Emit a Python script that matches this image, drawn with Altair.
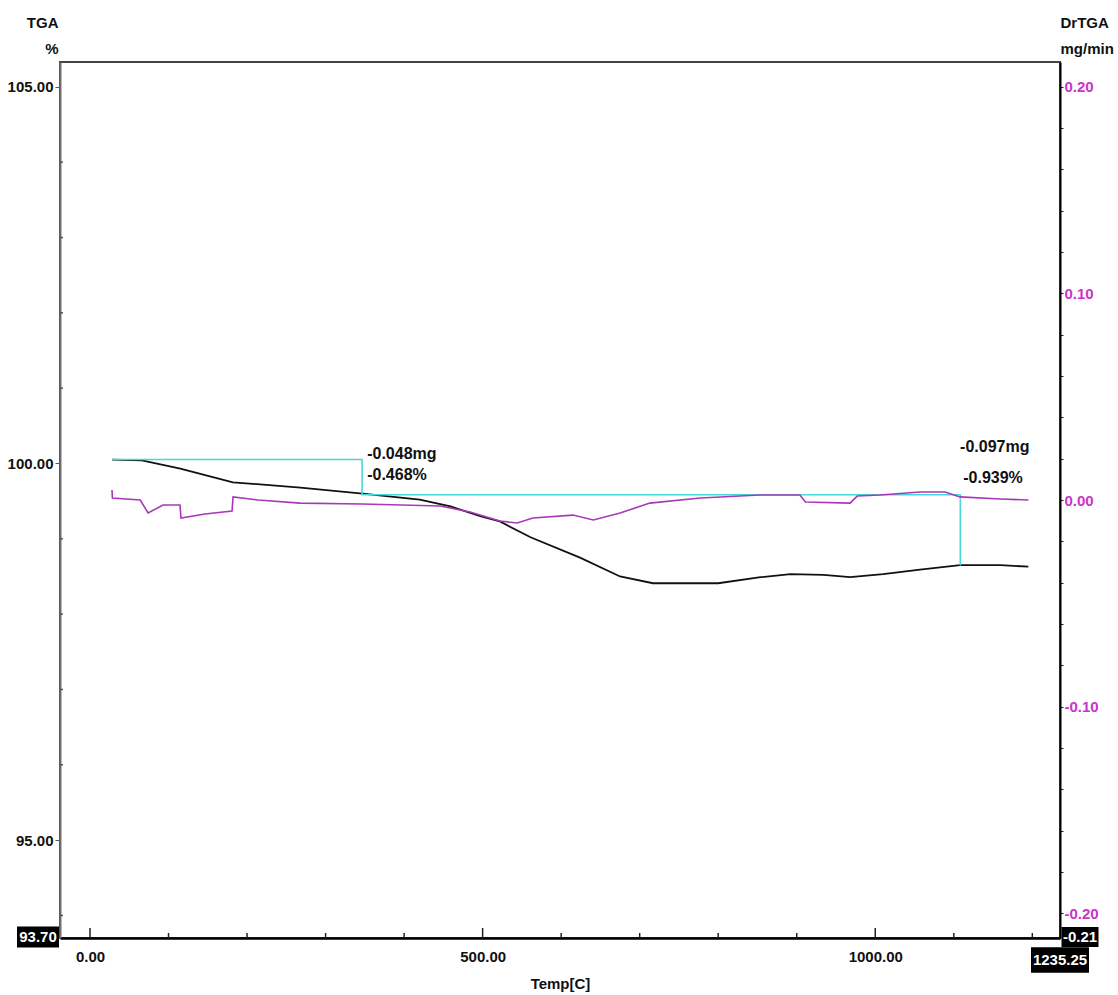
import altair as alt
import pandas as pd

# ---- data ----
temp_tga = [28, 66, 115, 182, 268, 347, 420, 459, 497, 522, 561, 624, 675, 717,
            800, 854, 892, 934, 968, 1010, 1057, 1108, 1159, 1195]
tga = [100.05, 100.04, 99.93, 99.75, 99.68, 99.60, 99.52, 99.43, 99.30, 99.23,
       99.02, 98.75, 98.50, 98.41, 98.41, 98.49, 98.53, 98.52, 98.49, 98.53,
       98.59, 98.65, 98.65, 98.63]

temp_dr = [28, 28.5, 64, 74, 93, 114.6, 115.9, 146.5, 180.9, 182.2, 214, 267.5,
           346.5, 446, 484, 522, 544, 564, 615, 641, 675, 713, 777, 853, 904,
           911, 968, 977, 1006, 1057, 1089, 1108, 1159, 1195]
dr = [0.0048, 0.0010, 0.0, -0.0063, -0.0024, -0.0024, -0.0087, -0.0068, -0.0053,
      0.0015, 0.0, -0.0015, -0.0019, -0.0029, -0.0058, -0.0102, -0.0111, -0.0087,
      -0.0073, -0.0097, -0.0063, -0.0015, 0.0010, 0.0024, 0.0024, -0.0010,
      -0.0015, 0.0019, 0.0024, 0.0039, 0.0039, 0.0015, 0.0005, 0.0]

step_temp = [28, 346.5, 346.5, 1108.3, 1108.3]
step_tga = [100.053, 100.053, 99.585, 99.585, 98.646]

ann_text = ["-0.048mg", "-0.468%", "-0.097mg", "-0.939%"]
ann_temp = [353, 353, 1108, 1112]
ann_tga = [100.12, 99.85, 100.225, 99.81]

X_MIN, X_MAX = -38.2, 1235.25
Y_MIN, Y_MAX = 93.70, 105.33
R_MIN, R_MAX = -0.212, 0.212

x_major = [0, 500, 1000]
x_minor = [100, 200, 300, 400, 600, 700, 800, 900, 1100, 1200]
y_major = [95, 100, 105]
y_minor = [94, 96, 97, 98, 99, 101, 102, 103, 104]
r_ticks = [round(-0.20 + 0.02 * i, 2) for i in range(21)]

FONT = "Liberation Sans, Arial, sans-serif"
FS = 15
FW = "bold"
MAGENTA_TXT = "#cc33cc"
MAGENTA_LINE = "#a838b8"
CYAN = "#48d8d8"

xs = alt.Scale(domain=[X_MIN, X_MAX], nice=False, zero=False)
ys = alt.Scale(domain=[Y_MIN, Y_MAX], nice=False, zero=False)
rs = alt.Scale(domain=[R_MIN, R_MAX], nice=False, zero=False)

X_AX = alt.Axis(values=x_major, format=".2f", tickSize=0, labelPadding=11,
                labelFontSize=FS, labelFont=FONT, labelFontWeight=FW, labelColor="#111",
                labelFlush=False, domainColor="#000", domainWidth=2.5, grid=False,
                title="Temp[C]", titleFont=FONT, titleFontSize=FS, titleFontWeight=FW,
                titleY=50, titleBaseline="alphabetic", titleColor="#111")
Y_AX = alt.Axis(values=y_major, format=".2f", tickSize=5, tickColor="#555", labelPadding=2,
                labelFontSize=FS, labelFont=FONT, labelFontWeight=FW, labelColor="#111",
                labelFlush=False, domainColor="#707070", domainWidth=2, grid=False,
                title=["TGA", "%"], titleAngle=0, titleAlign="right", titleX=-2, titleY=-35,
                titleBaseline="alphabetic", titleFont=FONT, titleFontSize=FS,
                titleFontWeight=FW, titleLineHeight=26, titleColor="#111")

r_label_expr = ("abs(datum.value*10 - round(datum.value*10)) < 0.001 ? "
                "replace(format(datum.value, '.2f'), '\u2212', '-') : ''")
R_AX = alt.Axis(orient="right", values=r_ticks, labelExpr=r_label_expr, tickSize=3,
                tickColor="#222", labelPadding=1, labelFontSize=FS, labelFont=FONT,
                labelFontWeight=FW, labelColor=MAGENTA_TXT, labelOverlap=False,
                labelFlush=False, domainColor="#000", domainWidth=2, grid=False,
                title=["DrTGA", "mg/min"], titleAngle=0, titleAlign="left", titleX=0,
                titleY=-35, titleBaseline="alphabetic", titleFont=FONT, titleFontSize=FS,
                titleFontWeight=FW, titleLineHeight=26, titleColor="#111")

df_tga = pd.DataFrame({"temp": temp_tga, "tga": tga})
df_dr = pd.DataFrame({"temp": temp_dr, "dr": dr})
df_step = pd.DataFrame({"temp": step_temp, "tga": step_tga, "o": list(range(len(step_temp)))})
df_ann = pd.DataFrame({"temp": ann_temp, "tga": ann_tga, "t": ann_text})
df_xt = pd.DataFrame({"temp": x_major + x_minor,
                      "tga": [Y_MIN] * (len(x_major) + len(x_minor)),
                      "y1": [Y_MIN + 0.133] * len(x_major) + [Y_MIN + 0.066] * len(x_minor)})
df_yt = pd.DataFrame({"temp": [X_MIN] * len(y_minor), "x1": [X_MIN + 3.8] * len(y_minor),
                      "tga": y_minor})


def X():
    return alt.X("temp:Q", scale=xs, axis=X_AX)


def Y():
    return alt.Y("tga:Q", scale=ys, axis=Y_AX)


tga_line = alt.Chart(df_tga).mark_line(color="#111111", strokeWidth=1.8).encode(x=X(), y=Y())

step_line = alt.Chart(df_step).mark_line(color=CYAN, strokeWidth=1.6).encode(
    x=X(), y=Y(), order="o:Q")

ann = alt.Chart(df_ann).mark_text(align="left", baseline="middle", font=FONT,
                                  fontSize=16, fontWeight=FW, color="#111").encode(
    x=X(), y=Y(), text="t:N")

xticks = alt.Chart(df_xt).mark_rule(color="#222", strokeWidth=1.5).encode(
    x=X(), y=Y(), y2="y1:Q")

yticks = alt.Chart(df_yt).mark_rule(color="#555", strokeWidth=1.5).encode(
    x=X(), x2="x1:Q", y=Y())

BOX = "M-1,-0.5L1,-0.5L1,0.5L-1,0.5Z"
BOX_W = "M-1,-0.44L1,-0.44L1,0.44L-1,0.44Z"
BOX_R = "M-1,-0.54L1,-0.54L1,0.54L-1,0.54Z"

df_lbl = pd.DataFrame({"temp": [X_MIN], "tga": [Y_MIN], "t": ["93.70"]})
df_end = pd.DataFrame({"temp": [X_MAX], "tga": [Y_MIN], "t": ["1235.25"]})
df_rmin = pd.DataFrame({"temp": [X_MAX], "tga": [Y_MIN], "t": ["-0.21"]})


def boxed(df, shape, size, xo, yo):
    box = alt.Chart(df).mark_point(shape=shape, size=size, filled=True, opacity=1,
                                   color="#000", strokeWidth=0,
                                   xOffset=xo, yOffset=yo).encode(x=X(), y=Y())
    txt = alt.Chart(df).mark_text(font=FONT, fontSize=FS, fontWeight=FW, color="#fff",
                                  align="center", baseline="middle", dx=xo, dy=yo).encode(
        x=X(), y=Y(), text="t:N")
    return box + txt


left = alt.layer(tga_line, step_line, ann, xticks, yticks,
                 boxed(df_lbl, BOX, 1764, -22, -1),
                 boxed(df_end, BOX_W, 3364, 0, 22),
                 boxed(df_rmin, BOX_R, 1369, 20, -1))

dr_line = alt.Chart(df_dr).mark_line(color=MAGENTA_LINE, strokeWidth=1.6).encode(
    x=X(),
    y=alt.Y("dr:Q", scale=rs, axis=R_AX),
)

chart = alt.layer(left, dr_line).resolve_scale(y="independent").properties(
    width=1000, height=876,
    padding={"left": 60, "top": 62, "right": 58, "bottom": 57},
    autosize=alt.AutoSizeParams(type="none"),
    background="#ffffff",
).configure_view(stroke="#444", strokeWidth=2)

chart.save("out.html", embed_options={"renderer": "svg", "actions": False})
